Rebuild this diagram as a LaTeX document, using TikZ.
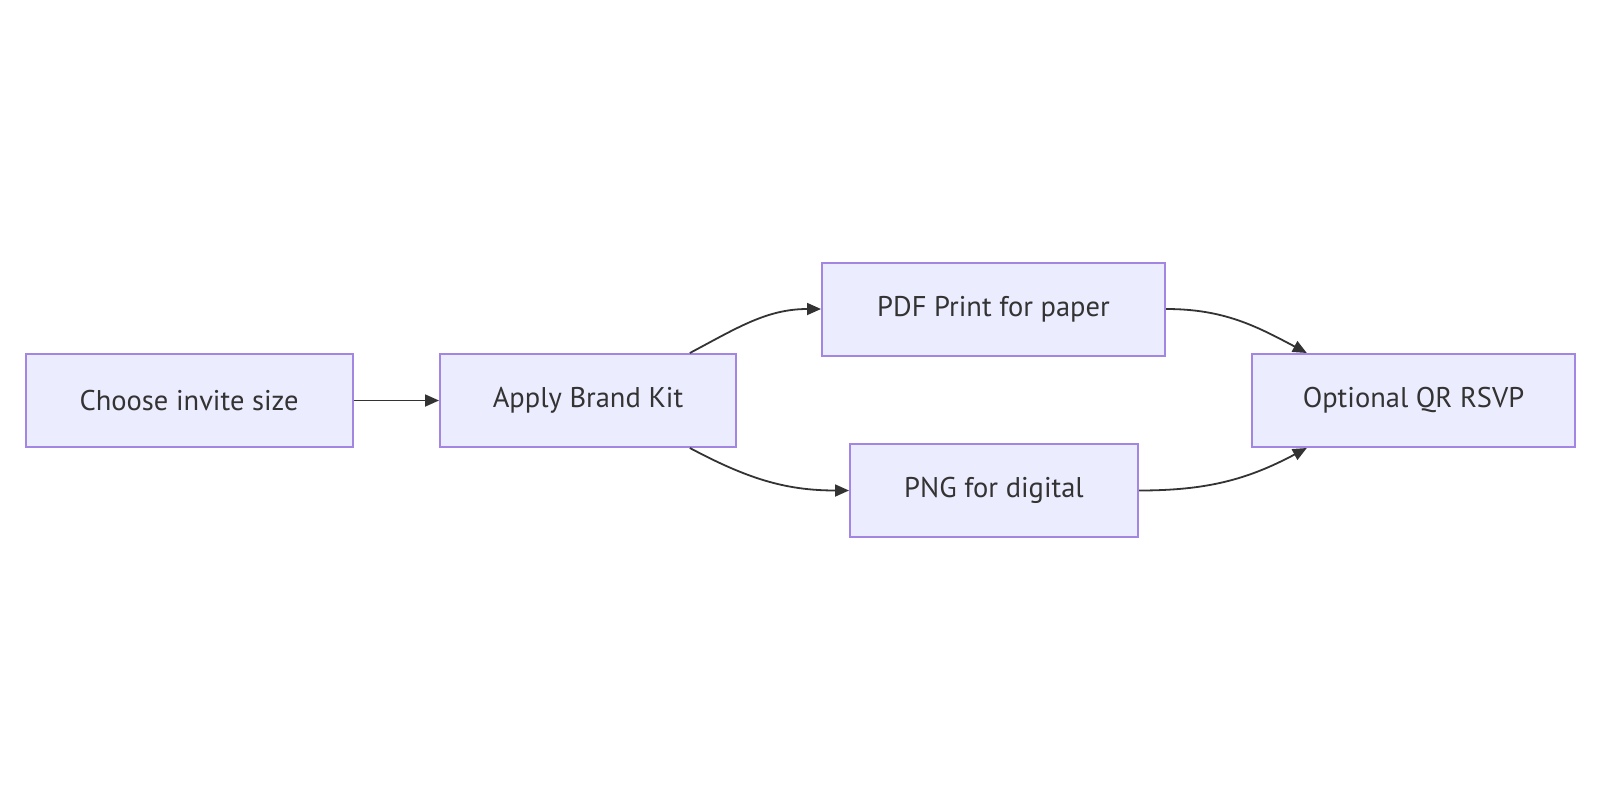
\documentclass[tikz,border=0pt]{standalone}
\usepackage{fontspec}
\setmainfont{PT Sans}
\usetikzlibrary{arrows.meta}
\definecolor{boxfill}{HTML}{ECECFF}
\definecolor{boxline}{HTML}{A385E3}
\definecolor{edgeline}{HTML}{333333}
\begin{document}
\begin{tikzpicture}[x=1pt,y=-1pt,
		stepbox/.style={draw=boxline,fill=boxfill,line width=2pt,minimum height=93pt,
			text=edgeline,font=\fontsize{28.5}{32}\selectfont,inner sep=0pt},
		flow/.style={draw=edgeline,line width=1.8pt,-{Triangle[length=14pt,width=12pt]}}]
		\useasboundingbox (0,0) rectangle (1600,800);
		\node[stepbox,minimum width=327pt] (size) at (189,400.5) {Choose invite size};
		\node[stepbox,minimum width=296pt] (brand) at (588,400.5) {Apply Brand Kit};
		\node[stepbox,minimum width=343pt] (pdf) at (993.5,309) {PDF Print for paper};
		\node[stepbox,minimum width=288pt] (png) at (994,490.5) {PNG for digital};
		\node[stepbox,minimum width=323pt] (qr) at (1413.5,400.5) {Optional QR RSVP};
		\draw[flow] (size) -- (brand);
		\draw[flow] (brand.25) to[out=28,in=180] (pdf.west);
		\draw[flow] (brand.-25) to[out=-28,in=180] (png.west);
		\draw[flow] (pdf.east) to[out=0,in=152] (qr.156);
		\draw[flow] (png.east) to[out=0,in=-152] (qr.204);
	\end{tikzpicture}
\end{document}
